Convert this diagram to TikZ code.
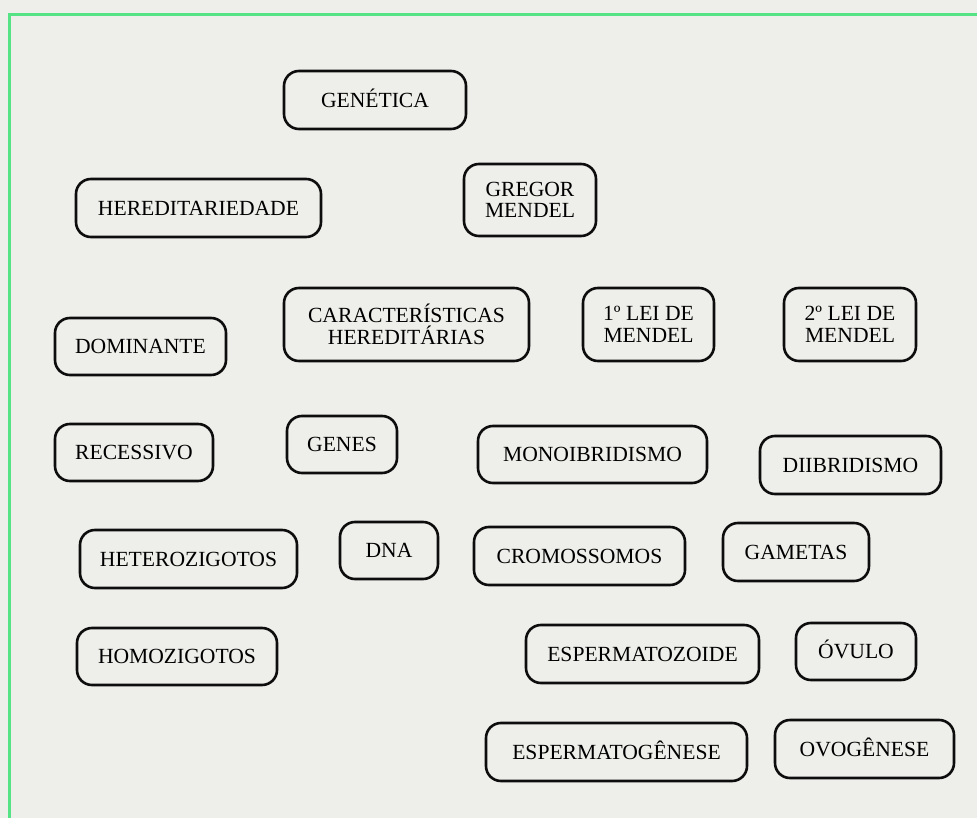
\documentclass[tikz,border=0pt]{standalone}
\usepackage{fontspec}
\setmainfont{Liberation Serif}
\newfontfamily\termfamily{Liberation Serif}
\definecolor{pagebg}{HTML}{EEEEEA}
\definecolor{framegreen}{HTML}{55E385}
\definecolor{boxline}{HTML}{0D0D0D}
\tikzset{
  term/.style={draw=boxline, line width=2.6pt, rounded corners=15pt,
    align=center, inner sep=0pt,
    font=\termfamily\fontsize{21.6}{21.6}\selectfont},
  oneline/.style={term, text height=14.3pt, text depth=0pt},
  twoline/.style={term}
}
\begin{document}
\begin{tikzpicture}[x=1pt,y=-1pt]
  % page background and open green frame
  \fill[pagebg] (0,0) rectangle (977,818);
  \useasboundingbox (0,0) rectangle (977,818);
  \draw[framegreen, line width=3pt] (9,830) -- (9,15) -- (990,15);

  % concept boxes
  \node[oneline, minimum width=182pt, minimum height=58pt] (genetica) at (375,100) {GENÉTICA};
  \node[oneline, minimum width=245pt, minimum height=58pt] (hered) at (198.5,208) {HEREDITARIEDADE};
  \node[twoline, minimum width=132pt, minimum height=72pt] (gregor) at (530,200) {GREGOR\\MENDEL};
  \node[twoline, minimum width=245pt, minimum height=73pt] (caract) at (406.5,324.5) {CARACTERÍSTICAS\\HEREDITÁRIAS};
  \node[twoline, minimum width=131pt, minimum height=73pt] (leia) at (648.5,324.5) {1º LEI DE\\MENDEL};
  \node[twoline, minimum width=132pt, minimum height=73pt] (leib) at (850,324.5) {2º LEI DE\\MENDEL};
  \node[oneline, minimum width=171pt, minimum height=57pt] (dominante) at (140.5,346.5) {DOMINANTE};
  \node[oneline, minimum width=158pt, minimum height=57pt] (recessivo) at (134,452.5) {RECESSIVO};
  \node[oneline, minimum width=110pt, minimum height=57pt] (genes) at (342,444.5) {GENES};
  \node[oneline, minimum width=229pt, minimum height=57pt] (mono) at (592.5,454.5) {MONOIBRIDISMO};
  \node[oneline, minimum width=181pt, minimum height=58pt] (diib) at (850.5,465) {DIIBRIDISMO};
  \node[oneline, minimum width=217pt, minimum height=58pt] (hetero) at (188.5,559) {HETEROZIGOTOS};
  \node[oneline, minimum width=98pt, minimum height=57pt] (dna) at (389,550.5) {DNA};
  \node[oneline, minimum width=211pt, minimum height=58pt] (cromo) at (579.5,556) {CROMOSSOMOS};
  \node[oneline, minimum width=146pt, minimum height=58pt] (gametas) at (796,552) {GAMETAS};
  \node[oneline, minimum width=200pt, minimum height=57pt] (homo) at (177,656.5) {HOMOZIGOTOS};
  \node[oneline, minimum width=233pt, minimum height=58pt] (espz) at (642.5,654) {ESPERMATOZOIDE};
  \node[oneline, minimum width=120pt, minimum height=57pt] (ovulo) at (856,651.5) {ÓVULO};
  \node[oneline, minimum width=261pt, minimum height=58pt] (espg) at (616.5,752) {ESPERMATOGÊNESE};
  \node[oneline, minimum width=179pt, minimum height=58pt] (ovog) at (864.5,749) {OVOGÊNESE};
\end{tikzpicture}
\end{document}
